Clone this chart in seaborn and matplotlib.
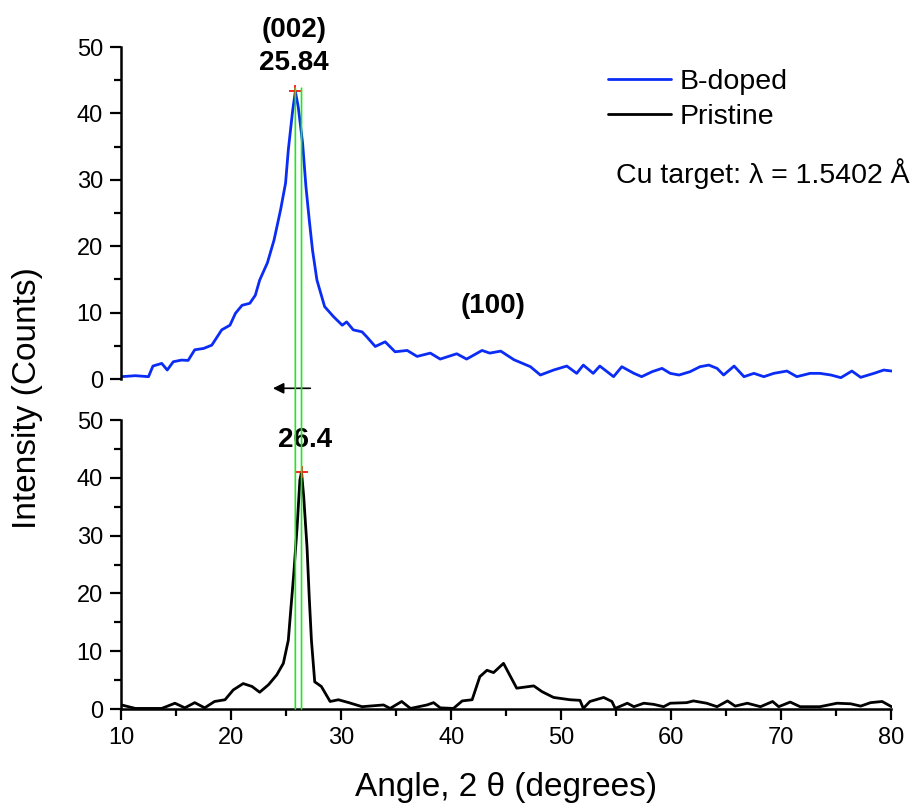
import matplotlib
matplotlib.use("Agg")
import matplotlib.pyplot as plt
from matplotlib.patches import ConnectionPatch
from matplotlib.ticker import MultipleLocator
import seaborn as sns
import pandas as pd

# ---------------- data ----------------
bdoped_x = [10.05, 11.3, 12.5, 12.9, 13.7, 14.2, 14.75, 15.5, 16.1, 16.7, 17.5, 18.25, 19.15, 19.9,
            20.4, 21.0, 21.7, 22.2, 22.6, 23.3, 23.9, 24.5, 24.95, 25.2, 25.6, 25.84, 26.1, 26.5,
            26.8, 27.1, 27.4, 27.8, 28.5, 29.3, 30.1, 30.5, 31.1, 31.9, 32.3, 33.1, 34.0, 34.9,
            36.0, 36.9, 38.1, 39.0, 40.5, 41.4, 42.8, 43.5, 44.5, 45.7, 47.2, 48.1, 49.3, 50.5,
            51.4, 52.0, 52.9, 53.5, 54.75, 55.5, 56.6, 57.3, 58.25, 59.15, 59.9, 60.7, 61.7, 62.6,
            63.4, 64.15, 64.75, 65.7, 66.6, 67.5, 68.4, 69.3, 70.5, 71.4, 72.6, 73.5, 74.5, 75.4,
            76.4, 77.2, 78.4, 79.3, 80.0]
bdoped_y = [0.35, 0.5, 0.35, 1.95, 2.35, 1.35, 2.6, 2.85, 2.8, 4.4, 4.6, 5.1, 7.4, 8.1,
            9.9, 11.1, 11.4, 12.6, 14.9, 17.5, 20.9, 25.5, 29.5, 34.5, 40.5, 43.3, 41.0, 35.5,
            29.0, 24.0, 19.4, 14.9, 10.9, 9.4, 8.1, 8.6, 7.4, 7.1, 6.4, 4.9, 5.6, 4.1,
            4.3, 3.4, 3.9, 3.0, 3.8, 3.0, 4.3, 3.9, 4.2, 2.9, 1.85, 0.6, 1.35, 1.95,
            0.85, 2.1, 0.85, 1.95, 0.35, 1.85, 0.85, 0.35, 1.1, 1.6, 0.85, 0.6, 1.1, 1.85,
            2.1, 1.6, 0.6, 1.95, 0.35, 0.85, 0.35, 0.85, 1.2, 0.35, 0.85, 0.85, 0.6, 0.2,
            1.2, 0.25, 0.85, 1.35, 1.2]

pristine_x = [10.05, 11.3, 13.7, 14.9, 15.8, 16.7, 17.6, 18.5, 19.45, 20.2, 21.1, 21.9, 22.6, 23.4,
              24.15, 24.75, 25.2, 25.4, 25.7, 26.0, 26.25, 26.4, 26.6, 26.9, 27.1, 27.3, 27.6, 28.2,
              29.0, 29.75, 30.7, 31.9, 33.85, 34.45, 35.5, 36.3, 37.8, 38.4, 39.0, 40.2, 41.0, 41.9,
              42.6, 43.25, 43.85, 44.75, 45.95, 47.5, 48.25, 49.3, 50.8, 51.7, 52.0, 52.6, 53.85, 54.6,
              54.9, 56.0, 56.6, 57.5, 58.4, 59.3, 59.9, 61.4, 62.0, 63.2, 64.15, 65.1, 65.8, 66.9,
              68.1, 69.2, 69.75, 70.8, 71.7, 72.9, 73.5, 75.05, 76.3, 77.2, 78.1, 79.15, 80.0]
pristine_y = [0.7, 0.1, 0.1, 1.0, 0.2, 1.1, 0.2, 1.3, 1.6, 3.3, 4.4, 3.9, 2.9, 4.2,
              5.9, 7.9, 11.9, 16.6, 23.5, 31.5, 39.6, 41.0, 36.7, 28.0, 19.4, 11.9, 4.7, 3.9,
              1.3, 1.6, 1.1, 0.4, 0.7, 0.1, 1.3, 0.1, 0.7, 1.1, 0.2, 0.1, 1.4, 1.6,
              5.6, 6.7, 6.3, 7.9, 3.6, 4.0, 3.0, 2.0, 1.6, 1.5, 0.1, 1.3, 2.0, 1.3,
              0.1, 1.0, 0.4, 1.0, 0.8, 0.4, 1.0, 1.1, 1.4, 1.0, 0.4, 1.4, 0.5, 1.0,
              0.4, 1.3, 0.4, 1.2, 0.4, 0.4, 0.4, 1.0, 0.9, 0.5, 1.1, 1.3, 0.4]

peak_pos = [25.84, 26.4]          # B-doped, Pristine
peak_val = [43.3, 41.0]
series_names = ["B-doped", "Pristine"]
series_colors = ["#0a2cf5", "#000000"]

df_b = pd.DataFrame({"angle": bdoped_x, "intensity": bdoped_y})
df_p = pd.DataFrame({"angle": pristine_x, "intensity": pristine_y})

# ---------------- style ----------------
sns.set_style("ticks")
plt.rcParams["font.family"] = ["Liberation Sans", "DejaVu Sans"]
plt.rcParams.update({"text.color": "black", "axes.labelcolor": "black",
                     "xtick.color": "black", "ytick.color": "black",
                     "axes.edgecolor": "black"})

W, H = 918, 805
fig = plt.figure(figsize=(W / 100, H / 100), dpi=100)
L, R = 121 / W, 891.5 / W
ax1 = fig.add_axes([L, 1 - 379 / H, R - L, (379 - 47) / H])
ax2 = fig.add_axes([L, 1 - 709 / H, R - L, (709 - 420) / H])

sns.lineplot(data=df_b, x="angle", y="intensity", ax=ax1, color=series_colors[0],
             linewidth=2.0, label=series_names[0], legend=False)
sns.lineplot(data=df_p, x="angle", y="intensity", ax=ax2, color=series_colors[1],
             linewidth=2.0, label=series_names[1], legend=False)

for ax in (ax1, ax2):
    ax.set_xlim(10, 80)
    ax.set_ylim(0, 50)
    ax.set_xlabel("")
    ax.set_ylabel("")
    ax.yaxis.set_major_locator(MultipleLocator(10))
    ax.yaxis.set_minor_locator(MultipleLocator(5))
    ax.xaxis.set_major_locator(MultipleLocator(10))
    ax.xaxis.set_minor_locator(MultipleLocator(5))
    ax.tick_params(axis="both", which="major", length=8, width=1.6, labelsize=17, pad=5,
                   direction="out", colors="black")
    ax.tick_params(axis="both", which="minor", length=5, width=1.6, direction="out")
    for s in ("top", "right"):
        ax.spines[s].set_visible(False)
    ax.spines["left"].set_linewidth(1.8)
    ax.spines["bottom"].set_linewidth(1.8)
    ax.patch.set_alpha(0)

ax1.spines["bottom"].set_visible(False)
ax1.tick_params(axis="x", which="both", bottom=False, labelbottom=False)

# peak markers
ax1.plot([peak_pos[0]], [peak_val[0]], marker="+", color="red", ms=9, mew=1.2)
ax2.plot([peak_pos[1]], [peak_val[1]], marker="+", color="red", ms=9, mew=1.2)

# green guide lines spanning both panels
for xp in peak_pos:
    con = ConnectionPatch(xyA=(xp, 43.8), coordsA=ax1.transData,
                          xyB=(xp, 0), coordsB=ax2.transData,
                          color="#22e622", linewidth=1.2, zorder=5)
    fig.add_artist(con)

# shift arrow
ax1.annotate("", xy=(23.8, -1.4), xytext=(27.2, -1.4), xycoords="data",
             arrowprops=dict(arrowstyle="-|>", color="black", lw=1.2,
                             mutation_scale=16, shrinkA=0, shrinkB=0),
             annotation_clip=False)

# annotations
ax1.text(25.7, 52.6, "(002)", ha="center", va="center", fontsize=20,
         fontweight="bold", clip_on=False)
ax1.text(25.7, 47.6, "25.84", ha="center", va="center", fontsize=20,
         fontweight="bold", clip_on=False)
ax1.text(43.8, 11.0, "(100)", ha="center", va="center", fontsize=20, fontweight="bold")
ax2.text(26.7, 46.5, "26.4", ha="center", va="center", fontsize=20, fontweight="bold")

ax1.text(55.0, 31.0, "Cu target: λ = 1.5402 Å", ha="left", va="center", fontsize=20.5,
         clip_on=False)

handles = [ax1.lines[0], ax2.lines[0]]
ax1.legend(handles=handles, labels=series_names, loc="upper left",
           bbox_to_anchor=((608 - 121) / (891.5 - 121), 1 - (69 - 47) / 332),
           frameon=False, fontsize=20.5, handlelength=2.2, handletextpad=0.3,
           labelspacing=0.3, borderaxespad=0, borderpad=0)

fig.text(28 / W, 1 - 398 / H, "Intensity (Counts)", rotation=90, ha="center",
         va="center", fontsize=24)
fig.text(506 / W, 1 - 787 / H, "Angle, 2 θ (degrees)", ha="center", va="center",
         fontsize=24)

fig.savefig("out.png", dpi=100, facecolor="white")
